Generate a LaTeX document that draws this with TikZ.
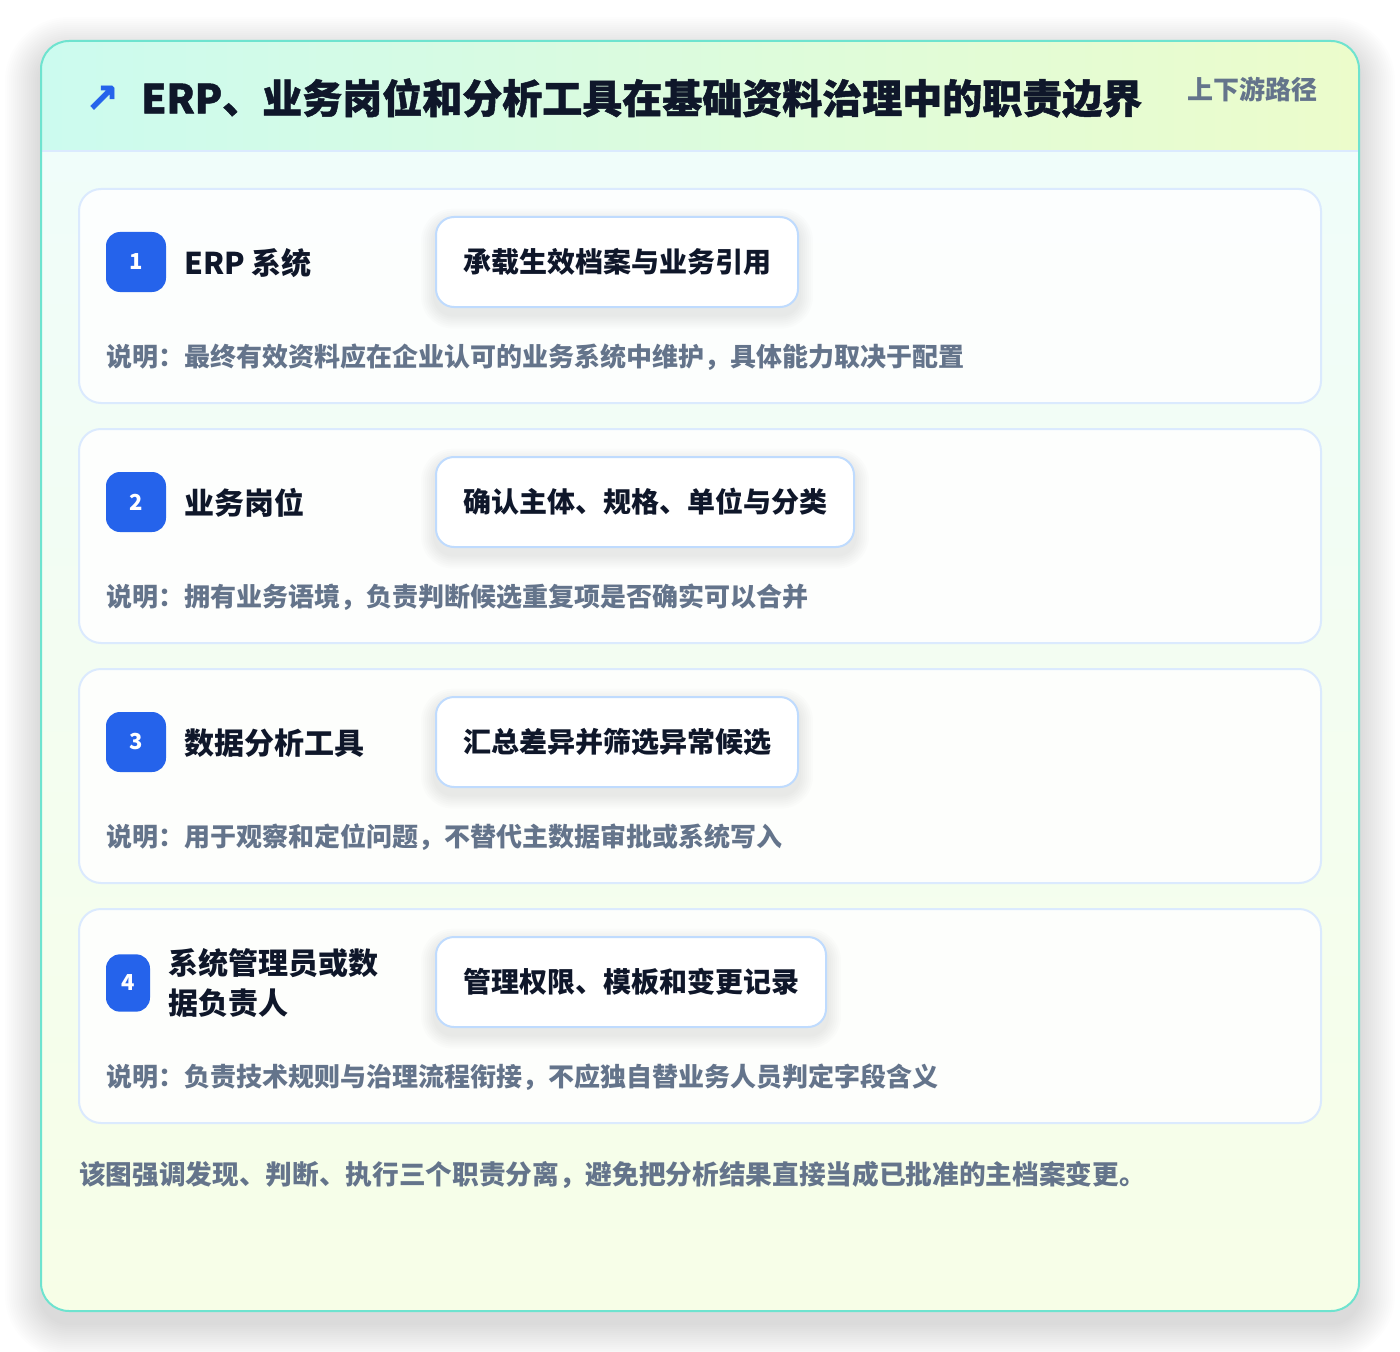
\documentclass[tikz,border=0pt]{standalone}
\usepackage{fontspec}
\setmainfont{Noto Sans CJK SC}
\newfontfamily\titlefont{Noto Sans CJK SC}[BoldFeatures={FakeBold=1.2}]
\newfontfamily\symfont{DejaVu Sans}[BoldFeatures={FakeBold=1.5}]
\definecolor{cardborder}{HTML}{DBEAFE}
\definecolor{pillborder}{HTML}{BFDBFE}
\definecolor{outerborder}{HTML}{6EE3CF}
\definecolor{badgeblue}{HTML}{2563EB}
\definecolor{inkdark}{HTML}{0F172A}
\definecolor{inkgrey}{HTML}{64748B}
\definecolor{headmint}{HTML}{CCFBEF}
\definecolor{headlime}{HTML}{ECFCCB}
\definecolor{bodytop}{HTML}{F0FDFA}
\definecolor{bodybottom}{HTML}{F7FEE7}
\tikzset{
  cardbox/.style={draw=cardborder, line width=1.5pt, fill=white, fill opacity=0.85, rounded corners=16.5pt},
  badge/.style={fill=badgeblue, rounded corners=10.5pt, text=white, font=\bfseries\fontsize{16.5pt}{18pt}\selectfont, inner sep=0pt, minimum width=45pt, minimum height=45pt},
  rolelabel/.style={anchor=west, inner sep=0pt, text=inkdark, font=\bfseries\fontsize{22.5pt}{30pt}\selectfont},
  pill/.style={anchor=west, draw=pillborder, line width=1.5pt, fill=white, rounded corners=13.5pt, minimum height=67.5pt, inner xsep=20.25pt, text=inkdark, font=\bfseries\fontsize{21pt}{24pt}\selectfont},
  pillghost/.style={pill, draw=none, fill=none, text opacity=0},
  desc/.style={anchor=west, inner sep=0pt, text=inkgrey, font=\bfseries\fontsize{19.5pt}{22pt}\selectfont},
}
% soft layered shadow behind a named node
\newcommand{\pillshadow}[1]{%
  \foreach \k in {1,...,7}{%
    \fill[black, opacity=0.010, rounded corners=13.5pt+\k*1.5pt]
      ([xshift=-\k*1.5pt, yshift=-5pt+\k*1.5pt]#1.north west) rectangle ([xshift=\k*1.5pt, yshift=-5pt-\k*1.5pt]#1.south east);
  }%
}
\begin{document}
\begin{tikzpicture}[x=0.75pt,y=-0.75pt]
\useasboundingbox[fill=white] (0,0) rectangle (1400,1352);
% outer shadow (layered)
\foreach \k in {1,...,18}{%
  \fill[black, opacity=0.008, rounded corners=21pt+\k*1.5pt]
    (41-\k*2, 53-\k*2) rectangle (1359+\k*2, 1323+\k*2);
}
\begin{scope}
\clip[rounded corners=21pt] (41,41) rectangle (1359,1311);
\fill[top color=bodytop, bottom color=bodybottom] (41,151) rectangle (1359,1311);
\fill[left color=headmint, right color=headlime] (41,41) rectangle (1359,151);
\draw[cardborder, line width=1.5pt] (41,151) -- (1359,151);
\end{scope}
\draw[outerborder, line width=1.5pt, rounded corners=21pt] (41,41) rectangle (1359,1311);

% header
\node[inner sep=0pt, text=badgeblue, font=\symfont\bfseries\fontsize{30pt}{32pt}\selectfont] (icon) at (102,99) {↗};
\node[anchor=west, inner sep=0pt, text=inkdark, font=\titlefont\bfseries\fontsize{30pt}{34pt}\selectfont] (title) at (141,98) {ERP、业务岗位和分析工具在基础资料治理中的职责边界};
\node[anchor=east, inner sep=0pt, text=inkgrey, font=\bfseries\fontsize{19.5pt}{22pt}\selectfont] (tag) at (1318,89) {上下游路径};

% card 1
\path[cardbox] (79,189) rectangle (1321,403);
\node[badge] (b1) at (136,262) {1};
\node[rolelabel] (l1) at (184,263) {ERP 系统};
\node[pillghost] (p1s) at (435,262) {承载生效档案与业务引用};
\pillshadow{p1s}
\node[pill] (p1) at (435,262) {承载生效档案与业务引用};
\node[desc] (d1) at (106,357) {说明：最终有效资料应在企业认可的业务系统中维护，具体能力取决于配置};

% card 2
\path[cardbox] (79,429) rectangle (1321,643);
\node[badge] (b2) at (136,502) {2};
\node[rolelabel] (l2) at (184,503) {业务岗位};
\node[pillghost] (p2s) at (435,502) {确认主体、规格、单位与分类};
\pillshadow{p2s}
\node[pill] (p2) at (435,502) {确认主体、规格、单位与分类};
\node[desc] (d2) at (106,597) {说明：拥有业务语境，负责判断候选重复项是否确实可以合并};

% card 3
\path[cardbox] (79,669) rectangle (1321,883);
\node[badge] (b3) at (136,742) {3};
\node[rolelabel] (l3) at (184,743) {数据分析工具};
\node[pillghost] (p3s) at (435,742) {汇总差异并筛选异常候选};
\pillshadow{p3s}
\node[pill] (p3) at (435,742) {汇总差异并筛选异常候选};
\node[desc] (d3) at (106,837) {说明：用于观察和定位问题，不替代主数据审批或系统写入};

% card 4
\path[cardbox] (79,909) rectangle (1321,1123);
\node[badge, minimum width=33pt, minimum height=43pt] (b4) at (128,983) {4};
\node[rolelabel, align=left] (l4) at (168,983) {系统管理员或数\\据负责人};
\node[pillghost] (p4s) at (435,982) {管理权限、模板和变更记录};
\pillshadow{p4s}
\node[pill] (p4) at (435,982) {管理权限、模板和变更记录};
\node[desc] (d4) at (106,1077) {说明：负责技术规则与治理流程衔接，不应独自替业务人员判定字段含义};

% footer
\node[anchor=west, inner sep=0pt, text=inkgrey, font=\bfseries\fontsize{20pt}{22pt}\selectfont] (foot) at (79,1175) {该图强调发现、判断、执行三个职责分离，避免把分析结果直接当成已批准的主档案变更。};
\end{tikzpicture}
\end{document}
